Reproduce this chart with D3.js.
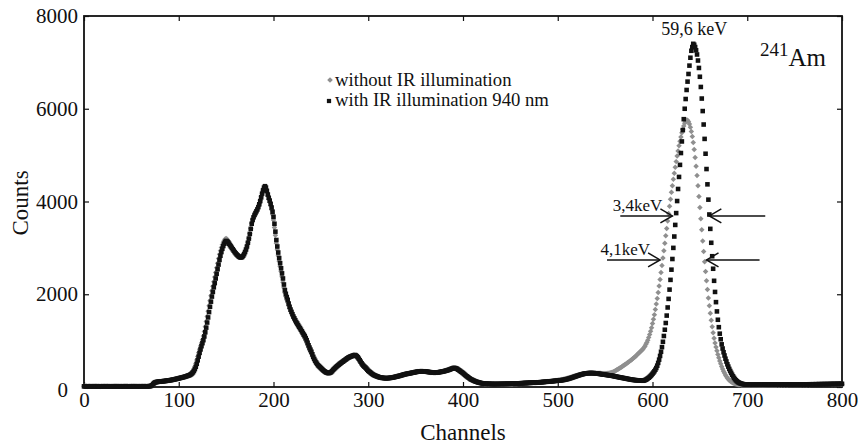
<!DOCTYPE html>
<html><head><meta charset="utf-8">
<script src="https://cdn.jsdelivr.net/npm/d3@7"></script>
<style>body{margin:0;background:#fff} svg{display:block} text{font-family:"Liberation Serif","Times New Roman",serif;fill:#111}</style>
</head><body><svg id="c" width="858" height="445"></svg>
<script>
// Counts per channel, with IR illumination 940 nm (channels 0..800)
const countsIR = [
14,16,15,13,17,15,14,16,15,14, 15,17,14,15,16,13,15,16,14,15, 16,14,15,17,15,14,16,15,13,15,
16,15,14,16,17,15,14,15,16,14, 15,16,14,15,17,16,14,15,15,16, 14,15,17,15,16,14,15,16,15,14,
16,15,14,17,15,16,15,14,16,18, 20,26,40,65,85,98,105,110,112,115, 118,120,122,124,127,128,131,134,137,140,
143,147,150,154,158,162,167,172,177,182, 187,192,197,202,207,212,218,224,231,238, 245,252,262,275,292,315,345,385,435,500,
575,655,735,810,880,945,1010,1090,1180,1280, 1390,1500,1615,1730,1840,1950,2050,2150,2240,2340, 2440,2540,2640,2740,2830,2910,2980,3040,3090,3130,
3150,3140,3120,3090,3060,3030,3000,2970,2940,2910, 2885,2860,2840,2820,2805,2795,2795,2805,2830,2865, 2910,2965,3030,3110,3200,3300,3410,3520,3600,3660,
3710,3750,3790,3830,3880,3940,4010,4090,4170,4240, 4300,4330,4300,4230,4150,4080,4020,3950,3870,3780, 3670,3520,3350,3170,3030,2900,2780,2670,2560,2450,
2340,2210,2090,2010,1940,1880,1800,1730,1670,1620, 1570,1520,1480,1440,1400,1370,1335,1300,1270,1235, 1200,1165,1130,1100,1055,1010,955,900,850,805,
760,705,650,605,565,530,500,470,450,430, 410,390,370,352,336,322,312,305,300,303, 310,325,345,370,390,410,430,448,465,482,
500,515,530,545,560,575,590,605,620,632, 643,652,660,668,676,684,690,680,662,640, 610,578,545,512,483,458,438,420,398,374,
350,334,318,300,284,270,258,248,240,232, 224,216,210,205,200,197,195,193,191,190, 191,192,194,196,199,202,206,210,215,220,
225,230,235,240,246,252,258,264,270,275, 280,284,288,292,296,300,305,310,314,318, 322,326,330,333,336,338,340,339,338,337,
335,332,329,326,323,320,318,315,313,311, 310,311,312,314,317,320,324,328,332,336, 340,346,352,358,364,370,378,386,394,402,
410,410,406,400,388,374,360,345,330,315, 300,282,264,246,230,215,200,185,170,160, 150,140,130,122,114,107,100,95,90,85,
80,78,76,74,72,70,69,68,67,66, 65,65,64,64,65,65,64,65,65,66, 66,66,67,67,68,68,68,69,69,70,
70,71,72,73,74,75,76,77,78,79, 80,81,82,83,84,85,86,87,88,89, 90,91,92,93,94,95,96,97,98,99,
100,102,103,105,107,108,110,112,113,115, 117,119,121,123,125,127,129,131,133,135, 137,139,141,143,146,149,152,156,160,165,
170,176,182,188,195,202,209,216,223,230, 237,244,251,258,264,270,276,281,286,290, 293,296,298,299,300,300,300,299,298,296,
294,292,289,286,283,280,277,274,271,268, 265,262,259,256,253,250,247,244,240,235, 230,226,222,218,214,210,206,202,198,194,
190,186,182,178,174,170,166,162,158,155, 152,150,148,146,145,144,143,142,140,137, 135,140,148,158,170,185,200,218,238,260,
285,312,340,372,410,460,520,590,670,760, 860,975,1100,1235,1380,1540,1715,1900,2100,2310, 2530,2760,3000,3245,3495,3750,4010,4270,4530,4790,
5045,5295,5540,5775,6000,6210,6405,6585,6750,6930, 7100,7250,7330,7400,7380,7330,7260,7170,7040,6880, 6690,6470,6220,5950,5660,5350,5030,4700,4370,4040,
3720,3410,3110,2820,2550,2290,2050,1830,1630,1450, 1290,1150,1030,920,830,750,680,610,550,490, 440,390,345,305,265,230,198,170,145,125,
108,95,85,77,70,65,60,57,55,53, 52,51,50,50,49,50,51,50,49,50, 50,51,52,50,49,50,51,52,50,51,
52,50,51,53,52,51,50,52,53,52, 51,52,53,52,54,53,52,53,54,53, 54,55,53,54,55,54,56,55,54,55,
56,55,57,56,55,57,56,58,57,56, 57,58,57,59,58,57,59,60,58,59, 60,59,61,60,59,61,62,60,61,62,
61,63,62,61,63,64,62,63,64,65, 64,66,65,64,66,67,65,66,68,67, 68
];
// Counts per channel, without IR illumination (channels 0..800)
const countsNoIR = [
15,14,16,15,13,16,15,14,15,16, 14,15,16,15,14,16,15,13,16,15, 15,16,14,15,16,15,14,16,15,14,
15,14,16,15,15,16,14,15,16,15, 16,15,15,14,16,15,16,14,15,16, 15,16,14,16,15,15,16,14,15,16,
15,14,16,15,16,15,14,16,15,17, 18,22,30,50,72,90,100,106,110,114, 117,119,121,123,126,128,130,133,136,139,
142,146,150,153,157,161,166,171,176,182, 188,194,200,206,212,218,225,232,240,248, 256,265,278,295,318,348,388,440,505,580,
660,740,815,885,950,1020,1100,1195,1300,1410, 1520,1635,1750,1860,1970,2075,2175,2270,2370,2470, 2570,2670,2770,2860,2940,3010,3070,3120,3160,3190,
3200,3185,3160,3125,3090,3055,3020,2985,2950,2920, 2890,2865,2845,2825,2810,2800,2800,2810,2835,2870, 2915,2970,3040,3120,3210,3310,3420,3530,3610,3670,
3720,3760,3800,3845,3895,3955,4025,4100,4180,4245, 4290,4310,4270,4200,4120,4050,3985,3910,3820,3720, 3600,3440,3270,3100,2960,2830,2710,2600,2490,2380,
2260,2140,2030,1950,1880,1820,1750,1690,1635,1585, 1540,1495,1455,1415,1380,1345,1310,1275,1240,1205, 1170,1130,1090,1050,1005,955,900,850,800,755,
710,660,615,575,540,505,478,455,435,415, 395,375,357,340,325,315,308,302,300,305, 315,332,352,375,396,417,437,455,472,490,
508,524,540,556,572,588,604,620,634,646, 656,665,673,680,686,690,685,670,650,625, 595,562,530,498,470,447,428,410,386,362,
340,323,306,290,275,262,251,242,234,226, 219,212,206,201,197,194,192,190,189,189, 190,192,195,198,202,206,210,215,220,225,
230,235,240,245,251,257,263,269,275,280, 285,289,293,297,301,305,309,313,317,321, 325,329,332,335,337,339,340,339,337,335,
333,330,327,324,321,318,315,313,311,309, 308,309,311,313,316,319,323,327,331,335, 339,344,350,356,362,368,375,383,391,398,
404,404,400,393,382,368,354,339,324,309, 294,277,260,243,227,212,198,184,171,161, 150,141,132,124,117,110,104,96,90,84,
78,76,74,72,70,69,68,67,66,65, 64,63,63,62,62,62,61,61,61,61, 61,61,62,62,62,63,63,63,64,64,
65,66,67,68,69,70,71,72,73,74, 75,76,77,78,79,80,81,82,83,84, 85,86,87,88,89,90,92,94,96,98,
100,102,104,106,108,110,112,114,116,118, 120,122,124,126,128,131,134,137,140,143, 146,149,152,156,160,164,168,173,178,183,
188,194,200,206,212,218,224,230,236,242, 248,254,259,264,269,274,279,283,287,291, 294,297,299,301,302,303,303,303,302,301,
300,299,298,297,296,295,294,293,292,290, 289,290,292,295,298,302,307,313,320,328, 340,352,365,378,390,402,415,428,442,456,
470,484,498,512,527,542,558,574,590,607, 624,642,660,680,700,720,740,760,780,800, 820,850,880,920,960,1010,1070,1130,1200,1280,
1370,1460,1560,1670,1790,1910,2040,2180,2320,2470, 2620,2780,2940,3100,3260,3420,3580,3740,3900,4050, 4200,4340,4480,4610,4740,4860,4980,5090,5200,5300,
5390,5480,5560,5630,5690,5730,5760,5750,5720,5670, 5600,5510,5400,5270,5120,4950,4760,4560,4340,4110, 3870,3630,3390,3150,2920,2700,2490,2290,2100,1920,
1750,1590,1440,1300,1170,1050,950,860,780,700, 630,560,500,440,390,340,300,260,225,195, 170,148,130,114,100,88,78,70,63,58,
54,50,48,46,45,44,44,43,43,42, 42,43,42,41,42,43,42,41,42,43, 42,41,43,42,41,42,43,44,42,41,
43,42,44,43,42,44,45,43,44,45, 44,45,46,44,45,46,45,47,46,45, 46,47,45,46,48,47,46,48,47,49,
48,47,49,48,50,49,48,50,51,49, 50,51,49,50,52,51,50,52,53,51, 52,53,51,52,54,53,52,54,55,53,
54,55,53,54,56,55,54,56,57,55, 56,57,55,56,58,57,56,58,59,57, 58
];
const xTickValues = [0,100,200,300,400,500,600,700,800];
const yTickValues = [0,2000,4000,6000,8000];
const legendLabels = ["without IR illumination", "with IR illumination 940 nm"];
const axisTitles = {x: "Channels", y: "Counts"};
// FWHM annotations: [label, count level, left arrow from/to channel, right arrow from/to channel]
const fwhmNotes = [
  {label: "3,4keV", level: 3690, left: [566, 621], right: [719, 660]},
  {label: "4,1keV", level: 2740, left: [552, 608], right: [713, 657]}
];
const peakLabel = {text: "59,6 keV", ch: 644, count: 7600};

const svg = d3.select("#c");
const x = d3.scaleLinear().domain([0, 800]).range([84, 842]);
const y = d3.scaleLinear().domain([0, 8000]).range([387, 16]);

// frame
svg.append("rect").attr("x", 84).attr("y", 16).attr("width", 758).attr("height", 371)
  .attr("fill", "none").attr("stroke", "#111").attr("stroke-width", 1.8);

function styleAxis(g) {
  g.select(".domain").remove();
  g.selectAll(".tick line").attr("stroke", "#111").attr("stroke-width", 1.2);
  g.selectAll(".tick text").attr("font-size", 21).attr("fill", "#111")
   .attr("font-family", '"Liberation Serif","Times New Roman",serif');
}
const gx = svg.append("g").attr("transform", "translate(0,387)")
  .call(d3.axisBottom(x).tickValues(xTickValues).tickSizeInner(-5).tickSizeOuter(0).tickPadding(5).tickFormat(d3.format("d")));
styleAxis(gx);
const gxt = svg.append("g").attr("transform", "translate(0,16)")
  .call(d3.axisTop(x).tickValues(xTickValues).tickSizeInner(-5).tickSizeOuter(0).tickFormat(""));
styleAxis(gxt);
const gy = svg.append("g").attr("transform", "translate(84,0)")
  .call(d3.axisLeft(y).tickValues(yTickValues).tickSizeInner(-5).tickSizeOuter(0).tickPadding(6).tickFormat(d3.format("d")));
styleAxis(gy);
gy.selectAll(".tick").filter(d => d === 0).select("text").attr("x", -16).attr("dy", "0.45em");
const gyr = svg.append("g").attr("transform", "translate(842,0)")
  .call(d3.axisRight(y).tickValues(yTickValues).tickSizeInner(-5).tickSizeOuter(0).tickFormat(""));
styleAxis(gyr);

// axis titles
svg.append("text").attr("x", 463).attr("y", 440).attr("text-anchor", "middle").attr("font-size", 23).text(axisTitles.x);
svg.append("text").attr("transform", "rotate(-90)").attr("x", -203).attr("y", 28)
  .attr("text-anchor", "middle").attr("font-size", 23).text(axisTitles.y);

// data points
const diamond = d3.symbol().type(d3.symbolSquare).size(15)();
const square = d3.symbol().type(d3.symbolSquare).size(21)();
svg.append("g").selectAll("path").data(countsNoIR).join("path")
  .attr("d", diamond).attr("fill", "#8f8f8f")
  .attr("transform", (d, i) => `translate(${x(i)},${y(d)}) rotate(45)`);
svg.append("g").selectAll("path").data(countsIR).join("path")
  .attr("d", square).attr("fill", "#111")
  .attr("transform", (d, i) => `translate(${x(i)},${y(d)})`);

// legend
const lg = svg.append("g");
lg.append("path").attr("d", d3.symbol().type(d3.symbolSquare).size(16)()).attr("fill", "#8f8f8f")
  .attr("transform", "translate(330,80) rotate(45)");
lg.append("path").attr("d", d3.symbol().type(d3.symbolSquare).size(18)()).attr("fill", "#111")
  .attr("transform", "translate(329,101)");
lg.append("text").attr("x", 335).attr("y", 86).attr("font-size", 18.7).text(legendLabels[0]);
lg.append("text").attr("x", 335).attr("y", 106).attr("font-size", 18.7).text(legendLabels[1]);

// peak label and isotope label
svg.append("text").attr("x", x(peakLabel.ch)).attr("y", y(peakLabel.count)).attr("text-anchor", "middle")
  .attr("font-size", 18).text(peakLabel.text);
const iso = svg.append("text").attr("x", 760).attr("y", 66).attr("font-size", 25);
iso.append("tspan").attr("font-size", 19).attr("dy", -10).text("241");
iso.append("tspan").attr("dy", 10).text("Am");

// FWHM arrows
const ag = svg.append("g").attr("stroke", "#111").attr("stroke-width", 1.5).attr("fill", "none");
fwhmNotes.forEach(n => {
  const yy = y(n.level);
  [n.left, n.right].forEach(seg => {
    const x0 = x(seg[0]), x1 = x(seg[1]);
    const dir = x1 > x0 ? 1 : -1;
    ag.append("line").attr("x1", x0).attr("x2", x1).attr("y1", yy).attr("y2", yy);
    ag.append("path").attr("d", `M${x1 - dir * 12},${yy - 7}L${x1},${yy}L${x1 - dir * 12},${yy + 7}`);
  });
  svg.append("text").attr("x", x(n.left[1]) - 10).attr("y", yy - 5).attr("text-anchor", "end")
    .attr("font-size", 17).text(n.label);
});
</script>
</body></html>
